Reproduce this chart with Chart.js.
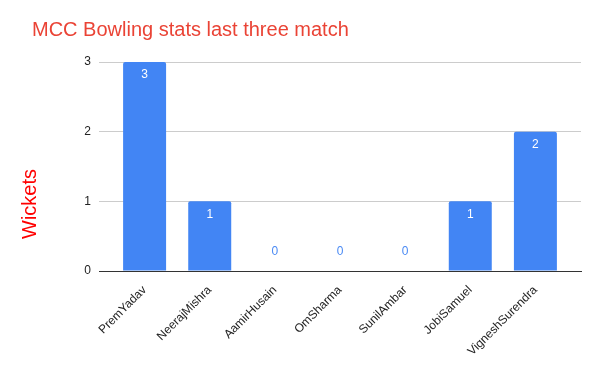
<!DOCTYPE html>
<html>
<head>
<meta charset="utf-8">
<script src="https://cdn.jsdelivr.net/npm/chart.js@4"></script>
<style>
  html, body { margin: 0; padding: 0; background: #fff; }
  #wrap { width: 600px; height: 371px; }
</style>
</head>
<body>
<div id="wrap"><canvas id="myChart"></canvas></div>
<script>
// Datos
const jugadores = ["PremYadav", "NeerajMishra", "AamirHusain", "OmSharma", "SunilAmbar", "JobiSamuel", "VigneshSurendra"];
const wickets = [3, 1, 0, 0, 0, 1, 2];
const ticksY = [0, 1, 2, 3];

const titulo = "MCC Bowling stats last three match";
const tituloY = "Wickets";
const fuente = "Arial, 'Liberation Sans', sans-serif";

// etiquetas de valor sobre las barras
const etiquetasPlugin = {
    id: "etiquetas",
    afterDatasetsDraw(chart) {
        const ctx = chart.ctx;
        const meta = chart.getDatasetMeta(0);
        ctx.save();
        ctx.font = "12px " + fuente;
        ctx.textAlign = "center";
        ctx.textBaseline = "middle";
        meta.data.forEach((bar, i) => {
            const v = wickets[i];
            if (v > 0) {
                ctx.fillStyle = "#ffffff";
                ctx.fillText(String(v), bar.x, bar.y + 13);
            } else {
                ctx.fillStyle = "#4a8af4";
                ctx.fillText(String(v), bar.x, bar.y - 19);
            }
        });
        // titulo del eje Y
        ctx.fillStyle = "#ff0000";
        ctx.font = "20px " + fuente;
        ctx.translate(30, 204);
        ctx.rotate(-Math.PI / 2);
        ctx.fillText(tituloY, 0, 0);
        ctx.restore();
    },
};

const ctx = document.getElementById("myChart");
new Chart(ctx, {
    type: "bar",
    data: {
        datasets: [
            {
                data: wickets.map((v, i) => ({ x: i, y: v })),
                backgroundColor: "#4285f4",
                borderRadius: 2,
                borderSkipped: "bottom",
                barPercentage: 0.66,
                categoryPercentage: 1,
            },
        ],
    },
    options: {
        responsive: true,
        maintainAspectRatio: false,
        animation: false,
        layout: { padding: { left: 32, right: 19, top: 0, bottom: 0 } },
        plugins: {
            legend: { display: false },
            tooltip: { enabled: false },
            title: {
                display: true,
                text: titulo,
                align: "start",
                color: "#ea4335",
                font: { family: fuente, size: 20, weight: "normal" },
                padding: { top: 18, bottom: 20 },
            },
        },
        scales: {
            x: {
                type: "linear",
                offset: false,
                min: -0.7,
                max: jugadores.length - 1 + 0.7,
                afterBuildTicks: (axis) => {
                    axis.ticks = jugadores.map((_, i) => ({ value: i }));
                },
                afterFit: (scale) => {
                    scale.height = 100;
                },
                grid: { display: false },
                border: { color: "#333333", width: 1 },
                ticks: {
                    autoSkip: false,
                    minRotation: 45,
                    maxRotation: 45,
                    color: "#222222",
                    font: { family: fuente, size: 12 },
                    padding: 4,
                    callback: (value) => jugadores[value],
                },
            },
            y: {
                min: ticksY[0],
                max: ticksY[ticksY.length - 1],
                afterFit: (scale) => {
                    scale.width = 67;
                },
                afterBuildTicks: (axis) => {
                    axis.ticks = ticksY.map((v) => ({ value: v }));
                },
                border: { display: false },
                grid: {
                    drawTicks: false,
                    color: (c) => (c.tick && c.tick.value === 0 ? "#333333" : "#cccccc"),
                },
                ticks: {
                    color: "#222222",
                    font: { family: fuente, size: 12 },
                    padding: 8,
                },
            },
        },
    },
    plugins: [etiquetasPlugin],
});
</script>
</body>
</html>
